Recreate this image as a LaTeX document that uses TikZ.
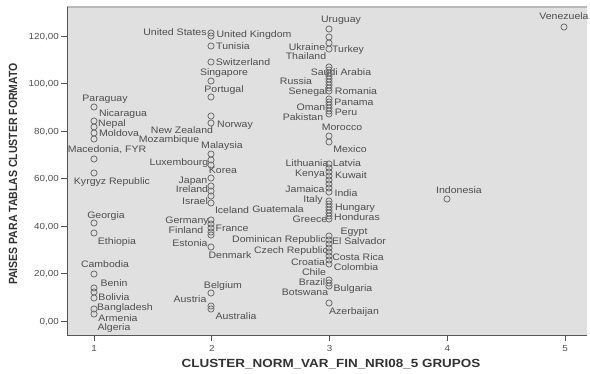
\documentclass[tikz,border=0pt]{standalone}
\usepackage{fontspec}
\setmainfont{Liberation Sans}
\definecolor{plotbg}{RGB}{224,224,224}
\definecolor{lbl}{RGB}{78,78,78}
\definecolor{mk}{RGB}{105,105,105}
\definecolor{axc}{RGB}{85,85,85}
\definecolor{ttl}{RGB}{50,50,50}
\newcommand{\hs}[1]{\scalebox{1.12}[1]{#1}}
\tikzset{
  lab/.style={font=\fontsize{9.4}{10}\selectfont, text=lbl, inner sep=0pt, text height=6.7pt, text depth=0pt, anchor=center},
  ticklab/.style={font=\fontsize{8.8}{10}\selectfont, text=lbl, inner sep=0pt, text height=6.4pt, text depth=0pt},
  mkr/.style={draw=mk, line width=0.75pt},
  axline/.style={draw=axc, line width=0.8pt}
}
\begin{document}
\begin{tikzpicture}[x=1pt,y=-1pt]
\useasboundingbox (0,0) rectangle (590,373);
% plot area
\fill[plotbg] (67,7) rectangle (587,335);
\draw[gray!55, line width=1.6pt] (67,7) -- (587,7);
\draw[axline] (67,7) -- (67,335) -- (587,335);
% y ticks
\foreach \v in {0,20,...,120} {
  \draw[axline] (61,{321-2.375*\v}) -- (67,{321-2.375*\v});
  \node[ticklab, anchor=east] (yt\v) at (59,{321-2.375*\v}) {\hs{\v,00}};
}
% x ticks
\foreach \k in {1,...,5} {
  \draw[axline] ({94+117.75*(\k-1)},335) -- ({94+117.75*(\k-1)},341);
  \node[ticklab] (xt\k) at ({94+117.75*(\k-1)},348) {\hs{\k}};
}
% titles
\node[font=\bfseries\fontsize{11.8}{13}\selectfont, text=ttl, inner sep=0pt] (xtitle) at (331,364) {\scalebox{1.14}[1]{CLUSTER\_NORM\_VAR\_FIN\_NRI08\_5 GRUPOS}};
\node[font=\bfseries\fontsize{10.5}{12}\selectfont, text=ttl, inner sep=0pt, rotate=90] (ytitle) at (13,174) {\scalebox{1}[1.13]{PAISES PARA TABLAS CLUSTER FORMATO}};
% labels
\foreach \x/\y/\t [count=\i] in {
 105/98/Paraguay, 123/113/Nicaragua, 112/123/Nepal, 119/133/Moldova,
 107/149/{Macedonia, FYR}, 112/181/Kyrgyz Republic, 106/215/Georgia,
 117/241/Ethiopia, 105/264/Cambodia, 114/283/Benin, 114/297/Bolivia,
 125/307/Bangladesh, 118/318/Armenia, 114/327/Algeria,
 175/32/United States, 254/34/United Kingdom, 233/46/Tunisia,
 243/62/Switzerland, 224/72/Singapore, 224/89/Portugal, 235/124/Norway,
 182/130/New Zealand, 169/139/Mozambique, 222/145/Malaysia,
 179/162/Luxembourg, 223/170/Korea, 193/180/Japan, 192/189/Ireland,
 195/201/Israel, 232/210/Iceland, 187/220/Germany, 186/230/Finland,
 232/228/France, 190/243/Estonia, 230/255/Denmark, 223/285/Belgium,
 190/299/Austria, 236/316/Australia,
 341/19/Uruguay, 307/47/Ukraine, 348/49/Turkey, 306/56/Thailand,
 341/72/Saudi Arabia, 296/81/Russia, 308/91/Senegal, 356/91/Romania,
 354/102/Panama, 311/107/Oman, 346/112/Peru, 303/117/Pakistan,
 342/127/Morocco, 350/149/Mexico, 307/163/Lithuania, 347/163/Latvia,
 310/173/Kenya, 351/175/Kuwait, 305/189/Jamaica, 346/193/India,
 313/199/Italy, 355/207/Hungary, 278/209/Guatemala, 310/219/Greece,
 357/217/Honduras, 354/231/Egypt, 279/239/Dominican Republic,
 359/241/El Salvador, 291/250/Czech Republic, 358/257/Costa Rica,
 308/262/Croatia, 356/267/Colombia, 314/272/Chile, 312/282/Brazil,
 353/288/Bulgaria, 305/292/Botswana, 354/311/Azerbaijan,
 459/190/Indonesia, 564/16/Venezuela} {
  \node[lab] (lab\i) at (\x,\y) {\hs{\t}};
}
% markers
\foreach \y in {107,121,127,133,139,159,173,223,233,274,288,292,298,309,314}
  \draw[mkr] (94,\y) circle (3.1pt);
\foreach \y in {33,36,46,62,81,97,116,123,154,160,165,178,186,191,196,203,220,224,228,232,235,247,293,306,309}
  \draw[mkr] (211,\y) circle (3.1pt);
\foreach \y in {29,37,43,49,67,70,73,76,79,82,85,88,91,99,102,105,108,111,114,136,142,164,168,172,176,180,184,188,192,201,204,207,210,213,216,219,236,240,244,248,252,256,260,264,280,283,286,303}
  \draw[mkr] (329,\y) circle (3.1pt);
\draw[mkr] (447,199) circle (3.1pt);
\draw[mkr] (564,27) circle (3.1pt);
\end{tikzpicture}
\end{document}
